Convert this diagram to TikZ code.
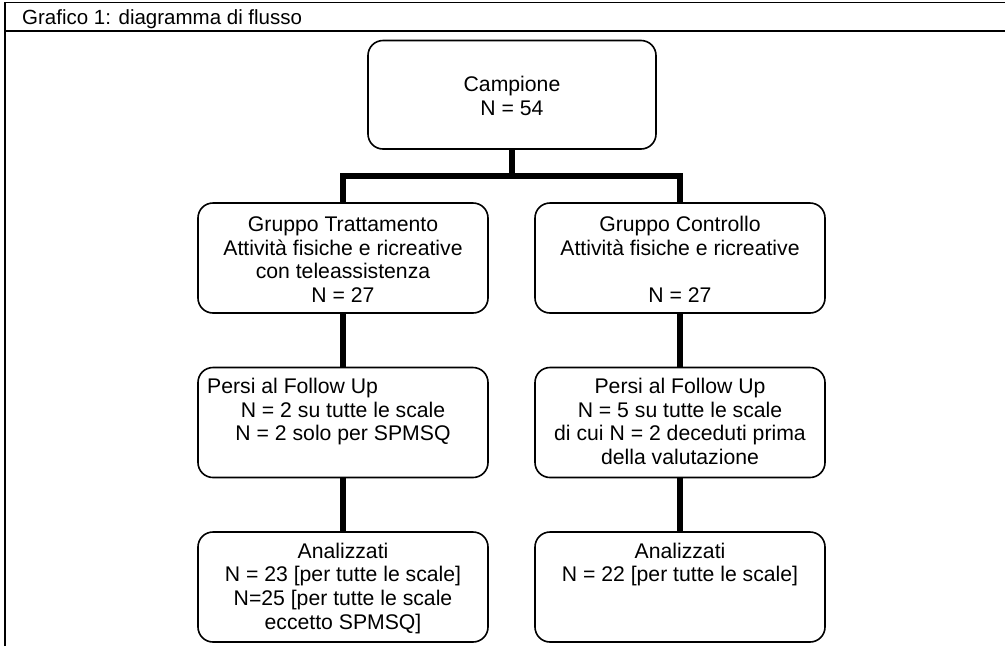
\documentclass[tikz,border=0pt]{standalone}
\usepackage{fontspec}
\setmainfont{Liberation Sans}
\begin{document}
\begin{tikzpicture}[x=1pt,y=-1pt,
  box/.style={draw,line width=1.6pt,rounded corners=15pt,minimum width=290pt,minimum height=110pt,inner sep=0pt},
  txt/.style={anchor=base,inner sep=0pt,font=\fontsize{21.2}{24}\selectfont},
  txtl/.style={txt,anchor=base west},
  hdr/.style={anchor=base west,inner sep=0pt,font=\fontsize{20.5}{24}\selectfont},
  link/.style={line width=5.5pt,line join=miter},
  frame/.style={line width=1.7pt}]
\useasboundingbox (0,0) rectangle (1005,646);
% frame
\draw[frame] (5,646) -- (5,2.5) -- (1005,2.5);
\draw[frame] (5,31) -- (1005,31);
\node[hdr] (title) at (22,24) {Grafico 1: diagramma di flusso};
% boxes
\node[box,minimum width=288pt,minimum height=108.5pt] (camp) at (512,94.75) {};
\node[box] (g1) at (343,258) {};
\node[box] (g2) at (680,258) {};
\node[box] (p1) at (343,422.5) {};
\node[box] (p2) at (680,422.5) {};
\node[box] (a1) at (343,587) {};
\node[box] (a2) at (680,587) {};
% texts
\node[txt] (c1) at (512,91) {Campione};
\node[txt] (c2) at (512,115) {N = 54};
\node[txt] (g1a) at (343,231.5) {Gruppo Trattamento};
\node[txt] (g1b) at (343,255.2) {Attività fisiche e ricreative};
\node[txt] (g1c) at (343,278.9) {con teleassistenza};
\node[txt] (g1d) at (343,302.6) {N = 27};
\node[txt] (g2a) at (680,231.5) {Gruppo Controllo};
\node[txt] (g2b) at (680,255.2) {Attività fisiche e ricreative};
\node[txt] (g2d) at (680,302.6) {N = 27};
\node[txtl] (p1a) at (207,393.5) {Persi al Follow Up};
\node[txt] (p1b) at (343,417.2) {N = 2 su tutte le scale};
\node[txt] (p1c) at (343,440.9) {N = 2 solo per SPMSQ};
\node[txt] (p2a) at (680,393.5) {Persi al Follow Up};
\node[txt] (p2b) at (680,417.2) {N = 5 su tutte le scale};
\node[txt] (p2c) at (680,440.9) {di cui N = 2 deceduti prima};
\node[txt] (p2d) at (680,464.6) {della valutazione};
\node[txt] (a1a) at (343,558) {Analizzati};
\node[txt] (a1b) at (343,581.7) {N = 23 [per tutte le scale]};
\node[txt] (a1c) at (343,605.4) {N=25 [per tutte le scale};
\node[txt] (a1d) at (343,629.1) {eccetto SPMSQ]};
\node[txt] (a2a) at (680,558) {Analizzati};
\node[txt] (a2b) at (680,581.7) {N = 22 [per tutte le scale]};
% connectors
\coordinate (bus) at (512,176);
\draw[link] (camp.south) -- (bus);
\draw[link] (g1.north) |- (bus) -| (g2.north);
\draw[link] (g1.south) -- (p1.north);
\draw[link] (p1.south) -- (a1.north);
\draw[link] (g2.south) -- (p2.north);
\draw[link] (p2.south) -- (a2.north);
\end{tikzpicture}
\end{document}
